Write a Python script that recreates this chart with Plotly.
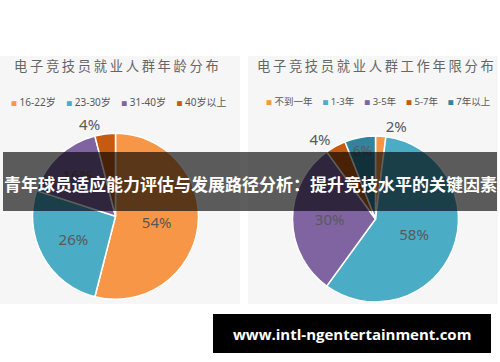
import plotly.graph_objects as go

W, H = 500, 362

# ---- data ----
age_title = "电子竞技员就业人群年龄分布"
age_labels = ["16-22岁", "23-30岁", "31-40岁", "40岁以上"]
age_values = [54, 26, 16, 4]
age_colors = ["#F79646", "#4BACC6", "#8064A2", "#C55A11"]
age_textpos = ["inside", "inside", "inside", "outside"]

work_title = "电子竞技员就业人群工作年限分布"
work_labels = ["不到一年", "1-3年", "3-5年", "5-7年", "7年以上"]
work_values = [2, 58, 30, 4, 6]
work_colors = ["#F79646", "#4BACC6", "#8064A2", "#C55A11", "#31849B"]
work_textpos = ["outside", "inside", "inside", "outside", "inside"]

banner_text = "青年球员适应能力评估与发展路径分析：提升竞技水平的关键因素"
site_text = "www.intl-ngentertainment.com"

CJK = "Noto Sans CJK SC"
LBL = "Noto Sans, Noto Sans CJK SC"


def px(x):
    return x / W


def py(y):
    return 1 - y / H


def dom(cx, cy, r):
    return dict(x=[px(cx - r), px(cx + r)], y=[py(cy + r), py(cy - r)])


fig = go.Figure()

for labels, values, colors, tpos, d in [
    (age_labels, age_values, age_colors, age_textpos, dom(115.5, 216.3, 83)),
    (work_labels, work_values, work_colors, work_textpos, dom(375.5, 219, 83)),
]:
    fig.add_trace(go.Pie(
        labels=labels, values=values, sort=False, direction="clockwise",
        rotation=0, marker=dict(colors=colors, line=dict(color="white", width=1.5)),
        texttemplate="%{value}%", textposition=tpos,
        insidetextorientation="horizontal",
        textfont=dict(family=LBL, size=15, color="#595959"),
        domain=d, showlegend=False, hoverinfo="skip",
    ))

shapes = [
    # panels
    dict(type="rect", xref="paper", yref="paper", x0=px(0), x1=px(240), y0=py(304), y1=py(56),
         fillcolor="#f6f6f6", line=dict(width=0), layer="below"),
    dict(type="rect", xref="paper", yref="paper", x0=px(248), x1=px(498), y0=py(304), y1=py(56),
         fillcolor="#f6f6f6", line=dict(width=0), layer="below"),
    # banner
    dict(type="rect", xref="paper", yref="paper", x0=px(3), x1=px(497), y0=py(211), y1=py(152),
         fillcolor="rgba(0,0,0,0.63)", line=dict(width=0), layer="above"),
    # site box
    dict(type="rect", xref="paper", yref="paper", x0=px(213), x1=px(491), y0=py(353), y1=py(314),
         fillcolor="black", line=dict(width=0), layer="above"),
]


def spaced(s, sep="\u2009"):
    return sep.join(list(s))


def legend_text(labels, colors, gap):
    parts = []
    for lab, col in zip(labels, colors):
        parts.append(f'<span style="color:{col};font-size:6px">■</span>\u00a0' + lab)
    return gap.join(parts)


def ann(text, x, y, font):
    return dict(text=text, x=px(x), y=py(y), xref="paper", yref="paper",
                xanchor="center", yanchor="middle", showarrow=False, font=font)


annotations = [
    ann(spaced(age_title), 116.5, 66, dict(family=CJK, size=13.3, color="#666666")),
    ann(spaced(work_title), 375.5, 66, dict(family=CJK, size=13.3, color="#666666")),
    ann(legend_text(age_labels, age_colors, "\u00a0" * 4), 118.5, 102,
        dict(family=LBL, size=10, color="#595959")),
    ann(legend_text(work_labels, work_colors, "\u00a0" * 4), 378, 101,
        dict(family=LBL, size=9.5, color="#595959")),
    ann("<b>" + banner_text + "</b>", 250, 183, dict(family=CJK, size=17, color="white")),
    ann("<b>" + site_text + "</b>", 352, 334, dict(family="Open Sans", size=15, color="white")),
]

fig.update_layout(
    width=W, height=H, margin=dict(l=0, r=0, t=0, b=0),
    paper_bgcolor="white", plot_bgcolor="white",
    shapes=shapes, annotations=annotations,
)

fig.write_html("out.html", config={"displayModeBar": False},
               post_script="document.body.style.margin='0';")
